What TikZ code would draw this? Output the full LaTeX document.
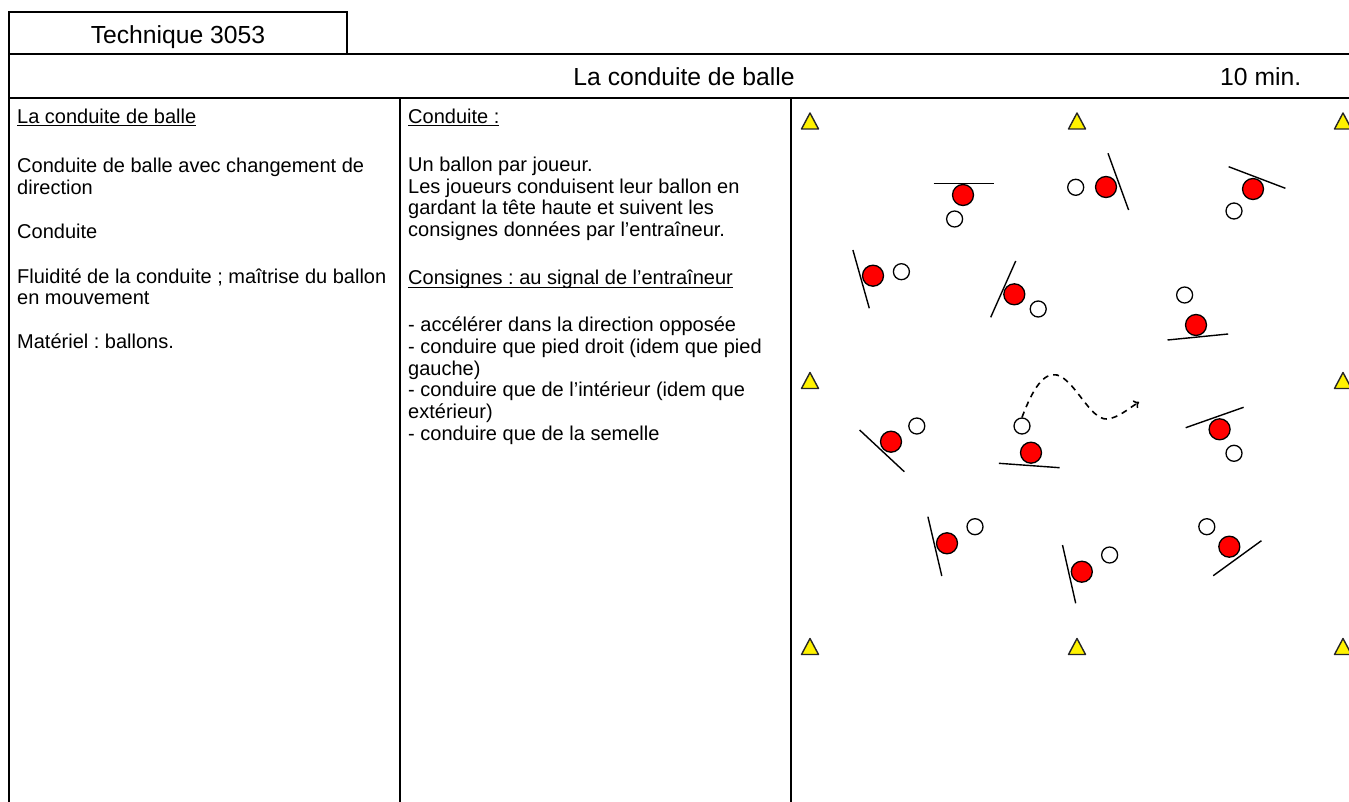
\documentclass[tikz,border=0pt]{standalone}
\usepackage{fontspec}
\setmainfont{Liberation Sans}
\usetikzlibrary{arrows.meta}
\frenchspacing
\newcommand\ulx[1]{\setbox0\hbox{#1}\rlap{\rule[-2.8pt]{\wd0}{1.2pt}}\box0}
\begin{document}
\begin{tikzpicture}[x=1pt,y=-1pt,
  frame/.style={line width=2.2pt},
  body/.style={anchor=base west, inner sep=0pt, font=\fontsize{20}{21.6}\selectfont\frenchspacing},
  head/.style={anchor=base, inner sep=0pt, font=\fontsize{24.7}{28}\selectfont},
  player/.style={circle, fill=red, draw=black, line width=1.3pt, minimum size=21pt, inner sep=0pt},
  ball/.style={circle, fill=white, draw=black, line width=1.3pt, minimum size=16pt, inner sep=0pt},
  bar/.style={line width=1.4pt},
  cone/.style={fill=yellow, draw=black!85, line width=1.4pt, line join=round},
  run/.style={line width=1.6pt, dash pattern=on 6pt off 5pt, -{To[length=5pt,width=9pt]}}
]
\useasboundingbox (0,0) rectangle (1349,802);
\clip (0,0) rectangle (1349,802);
\fill[white] (0,0) rectangle (1349,802);

% frame
\draw[frame] (9,802) -- (9,12) -- (347,12) -- (347,54);
\draw[frame] (9,54) -- (1349,54);
\draw[frame] (9,98) -- (1349,98);
\draw[frame] (400,98) -- (400,802);
\draw[frame] (791,98) -- (791,802);

% header texts
\node[head] (tech) at (178,43.5) {Technique 3053};
\node[head] (title) at (684,86) {La conduite de balle};
\node[head, anchor=base west] (time) at (1220,86) {10 min.};

% left column
\foreach \n/\y/\t in {
  l1/123.3/{\ulx{La conduite de balle}},
  l2/172.7/{Conduite de balle avec changement de},
  l3/194.3/{direction},
  l4/238.3/{Conduite},
  l5/283.3/{Fluidité de la conduite ; maîtrise du ballon},
  l6/305/{en mouvement},
  l7/348.3/{Matériel : ballons.}}
  \node[body] (\n) at (17,\y) {\t};

% middle column
\foreach \n/\y/\t in {
  m1/123.3/{\ulx{Conduite :}},
  m2/171.7/{Un ballon par joueur.},
  m3/193.3/{Les joueurs conduisent leur ballon en},
  m4/215/{gardant la tête haute et suivent les},
  m5/236.7/{consignes données par l’entraîneur.},
  m6/285/{\ulx{Consignes : au signal de l’entraîneur}},
  m7/331.7/{- accélérer dans la direction opposée},
  m8/353.3/{- conduire que pied droit (idem que pied},
  m9/375/{gauche)},
  m10/396.7/{- conduire que de l’intérieur (idem que},
  m11/418.3/{extérieur)},
  m12/440/{- conduire que de la semelle}}
  \node[body] (\n) at (408,\y) {\t};

% cones
\foreach \x/\y in {810/121.5, 1077/121.5, 1343/121.5,
                   810/381, 1343/381,
                   810/647, 1077/647, 1343/647}
  \draw[cone] ({\x-8.5},{\y+7.5}) -- ({\x+8.5},{\y+7.5}) -- (\x,{\y-8.5}) -- cycle;

% players: red position, bar ends, ball position
\foreach \i/\px/\py/\ax/\ay/\bx/\by/\wx/\wy in {
  1/963/195/933.6/183.5/993.6/183.5/954.6/219,
  2/1106/187/1108/153.3/1128.6/210/1075.7/187.3,
  3/1253/189/1228.6/166.7/1285.4/188.3/1234/211,
  4/873/275.7/852.9/250/869.3/308.3/901.4/271.7,
  5/1014.3/294.3/1015.7/261/990.7/317.3/1038.2/309,
  6/1196/325/1167.5/340/1228.2/334/1184.6/295,
  7/891/441.7/859.6/430/904.3/471.7/916.8/426,
  8/1031/452.7/998.9/463.3/1059.6/467.7/1022/426,
  9/1219.6/429.3/1185.7/427.7/1243.6/407.3/1234/453.3,
  10/947/543.3/927.9/516.7/941.8/576/975/526.7,
  11/1081.8/571.7/1062.5/545/1075.7/603.3/1109.6/555,
  12/1229.3/546.7/1213.2/575.7/1261.4/540.7/1206.8/526.7}
{
  \coordinate (a\i) at (\ax,\ay);
  \coordinate (e\i) at (\bx,\by);
  \draw[bar] (a\i) -- (e\i);
  \node[player] (p\i) at (\px,\py) {};
  \node[ball] (b\i) at (\wx,\wy) {};
}

% dribble path
\coordinate (tip) at (1139,402);
\draw[run] (b8.north) .. controls (1033,388) and (1044,372) .. (1057,375)
  .. controls (1075,380) and (1090,420) .. (1107,419)
  .. controls (1118,418) and (1128,409) .. (tip);
\end{tikzpicture}
\end{document}
